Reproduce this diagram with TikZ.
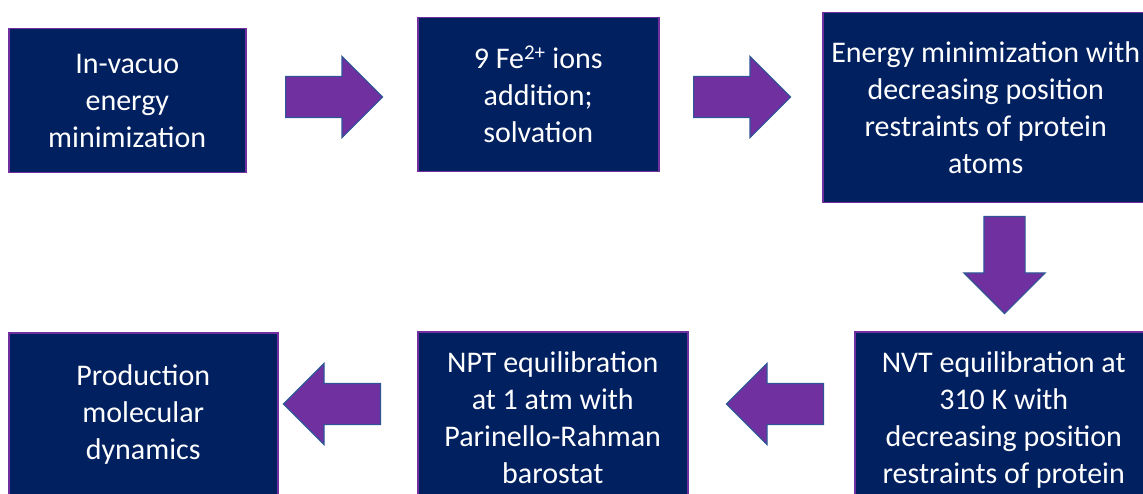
\documentclass[tikz,border=0pt]{standalone}
\usepackage{fontspec}
\setmainfont{Carlito}
\usetikzlibrary{shapes.arrows}
\definecolor{stagefill}{HTML}{002060}
\definecolor{stageline}{HTML}{7030A0}
\definecolor{arrowfill}{HTML}{7030A0}
\definecolor{arrowline}{HTML}{2F5597}
\begin{document}
\begin{tikzpicture}[x=1pt,y=-1pt,
  stage/.style={draw=stageline,line width=1.5pt,fill=stagefill,text=white,
    align=center,font=\fontsize{30}{37}\selectfont,inner sep=0pt,anchor=north west},
  bigarrow/.style={single arrow,draw=arrowline,line width=1.2pt,fill=arrowfill,
    inner sep=0pt,inner ysep=20pt,single arrow head extend=20pt,
    single arrow tip angle=90,minimum height=97pt,anchor=tail}]
  \useasboundingbox (0,0) rectangle (1143,494);
  % top row
  \node[stage,minimum width=237pt,minimum height=144pt] (vacuo) at (8,28)
    {In-vacuo\\energy\\minimization};
  \node[stage,minimum width=241pt,minimum height=154pt] (ions) at (417,17)
    {9 Fe\textsuperscript{2+} ions\\addition;\\solvation};
  \node[stage,minimum width=326pt,minimum height=190pt] (emin) at (822,12)
    {Energy minimization with\\decreasing position\\restraints of protein\\atoms};
  % bottom row
  \node[stage,minimum width=298pt,minimum height=176pt] (nvt) at (854,331)
    {NVT equilibration at\\310 K with\\decreasing position\\restraints of protein};
  \node[stage,minimum width=270pt,minimum height=172pt] (npt) at (417,331)
    {NPT equilibration\\at 1 atm with\\Parinello-Rahman\\barostat};
  \node[stage,minimum width=269pt,minimum height=164pt] (prod) at (8,332)
    {Production\\molecular\\dynamics};
  % block arrows, placed by their tails
  \node[bigarrow] (a1) at (285,97) {};
  \node[bigarrow] (a2) at (693,97) {};
  \node[bigarrow,rotate=-90] (a3) at (1004.5,216) {};
  \node[bigarrow,rotate=180] (a4) at (824,404) {};
  \node[bigarrow,rotate=180] (a5) at (381,404) {};
\end{tikzpicture}
\end{document}
